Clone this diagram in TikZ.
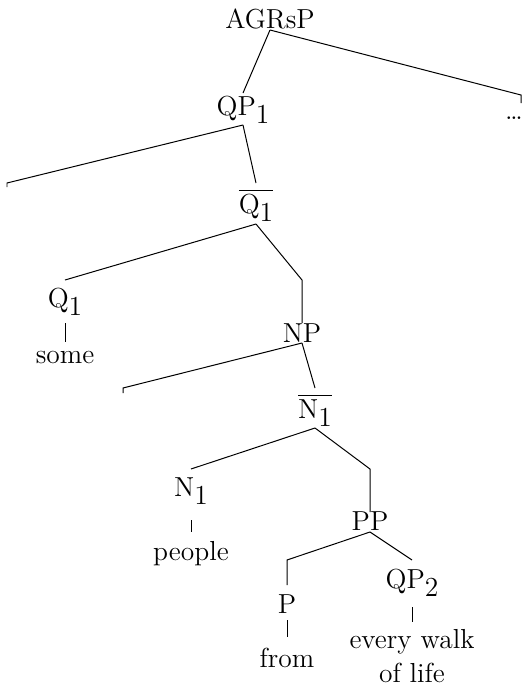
\documentclass[tikz,border=0pt]{standalone}
\newcommand\subi[1]{\raisebox{-3.2pt}{#1}}
\newcommand\barred[1]{$\overline{\hbox{#1}}$}
\tikzset{
  lbl/.style={inner sep=0pt, anchor=base, font=\fontsize{11}{13.6}\selectfont},
  br/.style={line width=0.4pt, line join=miter}
}
\begin{document}
\begin{tikzpicture}[x=0.4pt,y=-0.4pt]
\useasboundingbox (0,0) rectangle (529,688);
% nodes
\node[lbl] (agr) at (270,28) {AGRsP};
\node[lbl] (qp1) at (243,115) {QP\subi{1}};
\node[lbl] (dots) at (514,119) {\dots};
\node[lbl] (q1bar) at (256,213) {\barred{Q\subi{1}}};
\node[lbl] (q1) at (65,307) {Q\subi{1}};
\node[lbl] (some) at (65,363) {some};
\node[lbl] (np) at (302,342) {NP};
\node[lbl] (n1bar) at (315,418) {\barred{N\subi{1}}};
\node[lbl] (n1) at (191,496) {N\subi{1}};
\node[lbl] (people) at (191,560) {people};
\node[lbl] (pp) at (370,530) {PP};
\node[lbl] (p) at (287,613) {P};
\node[lbl] (qp2) at (412,588) {QP\subi{2}};
\node[lbl] (from) at (287,667) {from};
\node[lbl, align=center] (every) at (412,682) {every walk\\of life};
\coordinate (e1) at (7,187);
\coordinate (e2) at (123,393);
% branches
\draw[br] ([yshift=-0.8pt]agr.base) -- ([xshift=2.8pt,yshift=9.6pt]dots.base) -- ([xshift=2.8pt,yshift=6.4pt]dots.base);
\draw[br] ([yshift=-0.8pt]agr.base) -- ([yshift=8.8pt]qp1.base);
\draw[br] ([yshift=-4pt]qp1.base) -- ([yshift=1.6pt]e1) -- (e1);
\draw[br] ([yshift=-4pt]qp1.base) -- ([yshift=12pt]q1bar.base);
\draw[br] ([yshift=-4.4pt]q1bar.base) -- ([yshift=10.8pt]q1.base);
\draw[br] ([yshift=-4.4pt]q1bar.base) -- ([yshift=24.8pt]np.base) -- ([yshift=7.6pt]np.base);
\draw[br] ([yshift=-6.4pt]q1.base) -- ([yshift=8.4pt]some.base);
\draw[br] ([yshift=-0.4pt]np.base) -- ([yshift=2pt]e2) -- (e2);
\draw[br] ([yshift=-0.4pt]np.base) -- ([yshift=12pt]n1bar.base);
\draw[br] ([yshift=-4pt]n1bar.base) -- ([yshift=10.8pt]n1.base);
\draw[br] ([yshift=-4pt]n1bar.base) -- ([yshift=24.4pt]pp.base) -- ([yshift=7.2pt]pp.base);
\draw[br] ([yshift=-9.6pt]n1.base) -- ([yshift=11.2pt]people.base);
\draw[br] ([yshift=-0.8pt]pp.base) -- ([yshift=21.2pt]p.base) -- ([yshift=11.2pt]p.base);
\draw[br] ([yshift=-0.8pt]pp.base) -- ([yshift=11.2pt]qp2.base);
\draw[br] ([yshift=-2.8pt]p.base) -- ([yshift=12pt]from.base);
\draw[br] ([yshift=-7.6pt]qp2.base) -- ([yshift=24pt]every.base);
\end{tikzpicture}
\end{document}
